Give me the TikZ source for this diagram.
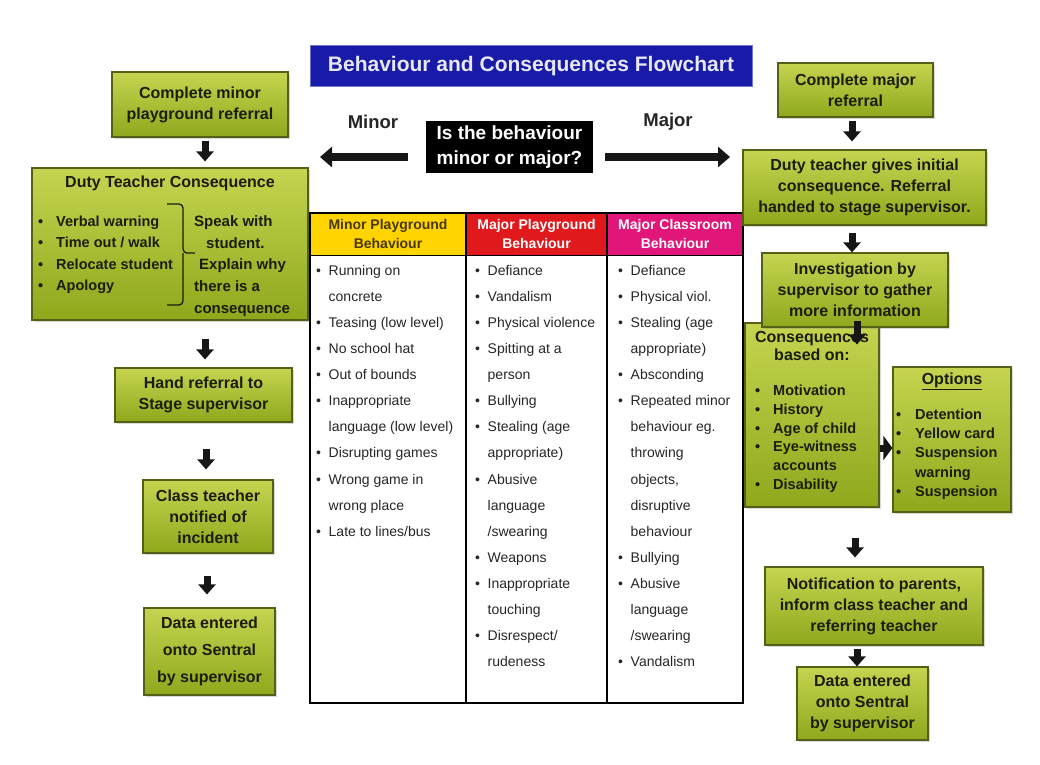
\documentclass[tikz,border=0pt]{standalone}
\usepackage{fontspec}
\setmainfont{Liberation Sans}
\usetikzlibrary{arrows.meta,shadows}

\definecolor{gtop}{RGB}{198,212,80}
\definecolor{gbot}{RGB}{142,168,28}
\definecolor{gline}{RGB}{84,96,22}
\definecolor{gtext}{RGB}{28,30,12}
\definecolor{ttlblue}{RGB}{24,26,168}
\definecolor{ttltext}{RGB}{232,232,242}
\definecolor{hdryellow}{RGB}{255,212,0}
\definecolor{hdrred}{RGB}{224,26,28}
\definecolor{hdrpink}{RGB}{224,22,120}
\definecolor{hdrtext}{RGB}{72,56,0}
\definecolor{arrowblk}{RGB}{22,22,22}

\newcommand{\bul}[1][12.5pt]{\makebox[#1][l]{\textbullet}}
\newcommand{\gap}{\hspace*{12.5pt}}

\begin{document}
\begin{tikzpicture}[x=1pt,y=-1pt,
    greenbox/.style={draw=gline, line width=1.2pt, top color=gtop, bottom color=gbot,
        text=gtext, font=\bfseries\fontsize{16}{21}\selectfont, align=center, inner sep=3pt,
        drop shadow={opacity=0.3,shadow xshift=2pt,shadow yshift=-2pt}},
    dnarrow/.style={arrowblk, line width=7pt, -{Triangle[width=17pt,length=10pt]}},
    bigarrow/.style={arrowblk, line width=8pt, -{Triangle[width=20pt,length=12pt]}},
    hdr/.style={draw=black, line width=1pt, minimum height=42pt, align=center,
        font=\bfseries\fontsize{14}{19}\selectfont, inner sep=0pt},
    cell/.style={anchor=north west, align=left, inner sep=0pt, text=black!85,
        font=\fontsize{14}{26.1}\selectfont},
    list/.style={anchor=north west, align=left, inner sep=0pt, text=gtext},
  ]
  \useasboundingbox[fill=white] (0,0) rectangle (1040,764);

  \node[fill=ttlblue, draw=ttlblue!60!white, line width=1pt, text=ttltext,
    font=\bfseries\fontsize{21}{25}\selectfont, minimum width=442, minimum height=41,
    inner sep=0pt] (title) at (531,66) {Behaviour and Consequences Flowchart};

  \node[fill=black, text=white, font=\bfseries\fontsize{19}{25}\selectfont, align=center,
    minimum width=167, minimum height=52, inner sep=0pt] (quest) at (509.5,147)
    {Is the behaviour\\minor or major?};
  \node[font=\bfseries\fontsize{18.5}{22}\selectfont, text=black!85] (minor) at (373,122) {Minor};
  \node[font=\bfseries\fontsize{18.5}{22}\selectfont, text=black!85] (major) at (668,122) {Major};
  \coordinate (minorEnd) at (320,157);
  \coordinate (majorEnd) at (730,157);
  \draw[bigarrow, shorten <=18pt] ([yshift=-10pt]quest.west) -- (minorEnd);
  \draw[bigarrow, shorten <=12pt] ([yshift=-10pt]quest.east) -- (majorEnd);

  % minor side
  \node[greenbox, minimum width=176, minimum height=65] (minRef) at (200,104.5)
    {Complete minor\\playground referral};
  \node[greenbox, minimum width=276, minimum height=152] (dutyT) at (170,244) {};
  \node[text=gtext, font=\bfseries\fontsize{16}{20}\selectfont] (dutyTitle) at (170,183)
    {Duty Teacher Consequence};
  \node[list, font=\bfseries\fontsize{14.5}{21.4}\selectfont] (dutyList) at (38,211.2)
    {\strut\bul[18pt]Verbal warning\\\bul[18pt]Time out / walk\\\bul[18pt]Relocate student\\\bul[18pt]Apology};
  \draw[gtext, line width=1.3pt, rounded corners=4pt] (167,204) -| (183,253) -- (195,253);
  \draw[gtext, line width=1.3pt, rounded corners=4pt] (167,305) -| (183,253);
  \node[list, font=\bfseries\fontsize{15}{21.7}\selectfont] (dutyTalk) at (194,211.2)
    {\strut Speak with\\\hspace*{12pt}student.\\\hspace*{5pt}Explain why\\there is a\\consequence};
  \node[greenbox, minimum width=177, minimum height=54] (handRef) at (203.5,395)
    {Hand referral to\\Stage supervisor};
  \node[greenbox, minimum width=130, minimum height=73] (classT) at (208,516.5)
    {Class teacher\\notified of\\incident};
  \node[greenbox, minimum width=131, minimum height=87, font=\bfseries\fontsize{16}{27}\selectfont]
    (dataL) at (209.5,651.5) {Data entered\\onto Sentral\\by supervisor};

  \draw[dnarrow, shorten <=3pt, shorten >=6pt] ([xshift=5pt]minRef.south) -- ([xshift=35pt]dutyT.north);
  \draw[dnarrow, shorten <=18pt, shorten >=8pt] ([xshift=35pt]dutyT.south) -- ([xshift=1.5pt]handRef.north);
  \draw[dnarrow, shorten <=26pt, shorten >=10pt] ([xshift=2.5pt]handRef.south) -- ([xshift=-2pt]classT.north);
  \draw[dnarrow, shorten <=22pt, shorten >=13pt] ([xshift=-1pt]classT.south) -- ([xshift=-2.5pt]dataL.north);

  % table
  \node[hdr, fill=hdryellow, text=hdrtext, minimum width=156] (hdrMinor) at (388,234)
    {Minor Playground\\Behaviour};
  \node[hdr, fill=hdrred, text=white, minimum width=141] (hdrMajP) at (536.5,234)
    {Major Playground\\Behaviour};
  \node[hdr, fill=hdrpink, text=white, minimum width=136] (hdrMajC) at (675,234)
    {Major Classroom\\Behaviour};
  \draw[line width=1.2pt] (310,213) rectangle (743,703);
  \draw[line width=1.2pt] (466,213) -- (466,703) (607,213) -- (607,703);

  \node[cell] (colMinor) at (316,256.8)
    {\strut\bul Running on\\\gap concrete\\\bul Teasing (low level)\\\bul No school hat\\
     \bul Out of bounds\\\bul Inappropriate\\\gap language (low level)\\\bul Disrupting games\\
     \bul Wrong game in\\\gap wrong place\\\bul Late to lines/bus};
  \node[cell] (colMajP) at (475,256.8)
    {\strut\bul Defiance\\\bul Vandalism\\\bul Physical violence\\\bul Spitting at a\\
     \gap person\\\bul Bullying\\\bul Stealing (age\\\gap appropriate)\\\bul Abusive\\
     \gap language\\\gap /swearing\\\bul Weapons\\\bul Inappropriate\\\gap touching\\
     \bul Disrespect/\\\gap rudeness};
  \node[cell] (colMajC) at (618,256.8)
    {\strut\bul Defiance\\\bul Physical viol.\\\bul Stealing (age\\\gap appropriate)\\
     \bul Absconding\\\bul Repeated minor\\\gap behaviour eg.\\\gap throwing\\\gap objects,\\
     \gap disruptive\\\gap behaviour\\\bul Bullying\\\bul Abusive\\\gap language\\
     \gap /swearing\\\bul Vandalism};

  % major side
  \node[greenbox, minimum width=155, minimum height=54] (majRef) at (855.5,90)
    {Complete major\\referral};
  \node[greenbox, minimum width=243, minimum height=75] (dutyR) at (864.5,187.5)
    {Duty teacher gives initial\\consequence. Referral\\handed to stage supervisor.};
  \node[greenbox, minimum width=134, minimum height=184] (consB) at (812,415) {};
  \node[greenbox, minimum width=186, minimum height=74] (invest) at (855,290)
    {Investigation by\\supervisor to gather\\more information};
  \node[text=gtext, align=center, font=\bfseries\fontsize{16}{18}\selectfont] (consTitle)
    at (812,346) {Consequences\\based on:};
  \node[list, font=\bfseries\fontsize{14.5}{18.8}\selectfont] (consList) at (755,382.1)
    {\strut\bul[18pt]Motivation\\\bul[18pt]History\\\bul[18pt]Age of child\\
     \bul[18pt]Eye-witness\\\hspace*{18pt}accounts\\\bul[18pt]Disability};
  \node[greenbox, minimum width=118, minimum height=145] (optB) at (952,439.5) {};
  \node[text=gtext, font=\bfseries\fontsize{16}{18}\selectfont] (optTitle) at (952,381)
    {\underline{Options}};
  \node[list, font=\bfseries\fontsize{14.5}{19.2}\selectfont] (optList) at (896,405.8)
    {\strut\bul[19pt]Detention\\\bul[19pt]Yellow card\\\bul[19pt]Suspension\\
     \hspace*{19pt}warning\\\bul[19pt]Suspension};
  \node[greenbox, minimum width=218, minimum height=78] (notify) at (874,606)
    {Notification to parents,\\inform class teacher and\\referring teacher};
  \node[greenbox, minimum width=131, minimum height=73] (dataR) at (862.5,703.5)
    {Data entered\\onto Sentral\\by supervisor};

  \draw[dnarrow, shorten <=3pt, shorten >=8pt] ([xshift=-3.5pt]majRef.south) -- ([xshift=-12.5pt]dutyR.north);
  \draw[dnarrow, shorten <=7pt] ([xshift=-12.5pt]dutyR.south) -- ([xshift=-3pt]invest.north);
  \draw[dnarrow] ([xshift=2pt,yshift=7pt]invest.south) -- ([xshift=45pt,yshift=-22pt]consB.north);
  \draw[dnarrow, -{Triangle[width=24pt,length=9pt]}] ([yshift=-33pt]consB.east) -- ([yshift=-8.5pt]optB.west);
  \draw[dnarrow] ([xshift=43pt,yshift=-30pt]consB.south) -- ([xshift=-19pt,yshift=9pt]notify.north);
  \draw[dnarrow, shorten <=3pt] ([xshift=-17pt]notify.south) -- ([xshift=-5.5pt]dataR.north);
\end{tikzpicture}
\end{document}
